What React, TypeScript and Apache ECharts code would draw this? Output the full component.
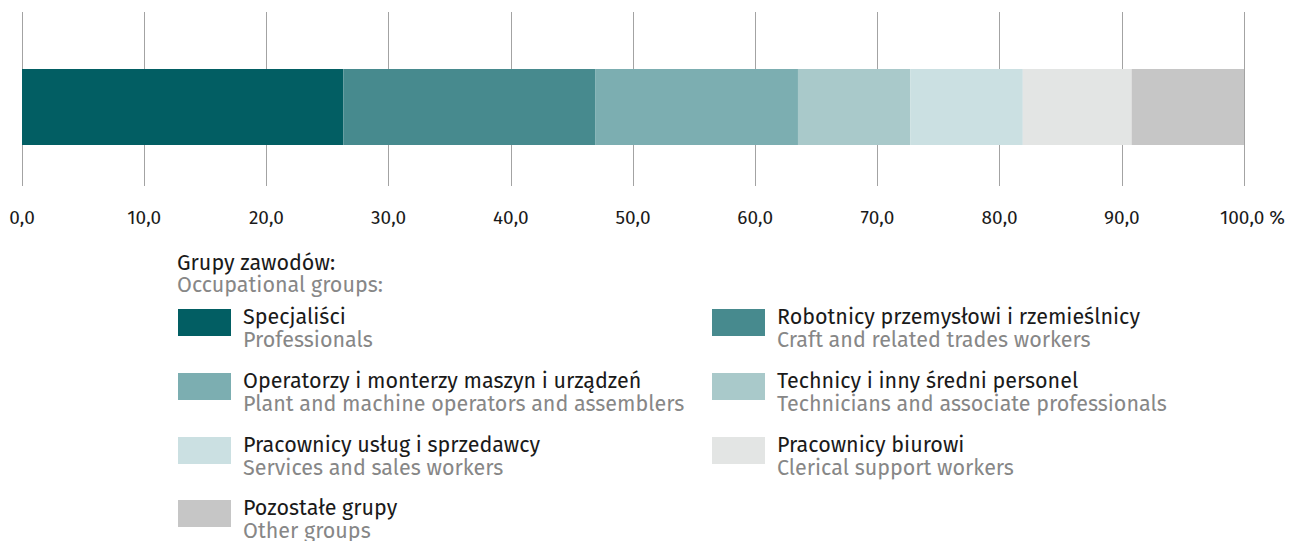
import React, { useEffect, useRef } from "react";
import * as echarts from "echarts";

const categories = ["Struktura"];
const seriesNamesPl = [
  "Specjaliści",
  "Robotnicy przemysłowi i rzemieślnicy",
  "Operatorzy i monterzy maszyn i urządzeń",
  "Technicy i inny średni personel",
  "Pracownicy usług i sprzedawcy",
  "Pracownicy biurowi",
  "Pozostałe grupy",
];
const seriesNamesEn = [
  "Professionals",
  "Craft and related trades workers",
  "Plant and machine operators and assemblers",
  "Technicians and associate professionals",
  "Services and sales workers",
  "Clerical support workers",
  "Other groups",
];
const seriesValues = [26.3, 20.6, 16.6, 9.2, 9.2, 8.9, 9.2];
const seriesColors = ["#025e63", "#478a8e", "#7caeb1", "#a9c9ca", "#cbe0e2", "#e3e5e4", "#c6c6c6"];
const tickValues = [0, 10, 20, 30, 40, 50, 60, 70, 80, 90, 100];
const unitSuffix = " %";
const legendTitlePl = "Grupy zawodów:";
const legendTitleEn = "Occupational groups:";

const FONT = "'Fira Sans', 'Noto Sans', sans-serif";
const LEG_SIZE = 21.5;

export default function App() {
  const ref = useRef<HTMLDivElement>(null);
  useEffect(() => {
    if (!ref.current) return;
    const chart = echarts.init(ref.current, undefined, { renderer: "svg" });

    const colX = [178, 712];
    const textX = [243, 777];
    const rowTop = [309, 373, 437, 500];
    const txt = (text: string, fill: string) => ({
      text,
      fill,
      font: `${LEG_SIZE}px ${FONT}`,
      verticalAlign: "middle",
      lineHeight: 21,
    });
    const legendEls: any[] = [
      { type: "text", x: 177, y: 263, style: txt(legendTitlePl, "#1a1a1a") },
      { type: "text", x: 177, y: 285, style: txt(legendTitleEn, "#878787") },
    ];
    seriesNamesPl.forEach((name, i) => {
      const col = i % 2;
      const row = Math.floor(i / 2);
      legendEls.push({
        type: "rect",
        shape: { x: colX[col], y: rowTop[row], width: 53, height: 27 },
        style: { fill: seriesColors[i] },
      });
      legendEls.push({ type: "text", x: textX[col], y: rowTop[row] + 8, style: txt(name, "#1a1a1a") });
      legendEls.push({ type: "text", x: textX[col], y: rowTop[row] + 31, style: txt(seriesNamesEn[i], "#878787") });
    });

    chart.setOption({
      animation: false,
      backgroundColor: "#ffffff",
      grid: [
        { left: 22, right: 49, top: 12, height: 174 },
        { left: 22, right: 49, top: 69, height: 76 },
      ],
      xAxis: [
        {
          type: "value",
          gridIndex: 0,
          min: 0,
          max: 100,
          interval: 10,
          axisLine: { show: false },
          axisTick: { show: false },
          splitLine: { show: true, lineStyle: { color: "#a3a3a3", width: 1 } },
          axisLabel: {
            margin: 22,
            color: "#1a1a1a",
            fontSize: 19,
            fontFamily: FONT,
            formatter: (v: number) => {
              const s = v.toFixed(1).replace(".", ",");
              return v === 100 ? `{pad|}{n|${s}}{u|${unitSuffix}}` : s;
            },
            rich: {
              pad: { width: 17 },
              n: { fontSize: 19, fontFamily: FONT, color: "#1a1a1a" },
              u: { fontSize: 19, fontFamily: FONT, color: "#1a1a1a" },
            },
          },
          customValues: tickValues,
        },
        {
          type: "value",
          gridIndex: 1,
          min: 0,
          max: 100,
          show: false,
        },
      ],
      yAxis: [
        { type: "category", gridIndex: 0, data: categories, show: false },
        { type: "category", gridIndex: 1, data: categories, show: false },
      ],
      series: seriesNamesPl.map((name, i) => ({
        name,
        type: "bar",
        stack: "total",
        xAxisIndex: 1,
        yAxisIndex: 1,
        barWidth: "100%",
        itemStyle: { color: seriesColors[i] },
        data: [seriesValues[i]],
      })),
      graphic: legendEls,
    });
    return () => chart.dispose();
  }, []);
  return (
    <div
      ref={ref}
      style={{ position: "fixed", left: 0, top: 0, width: 1293, height: 541 }}
    />
  );
}
